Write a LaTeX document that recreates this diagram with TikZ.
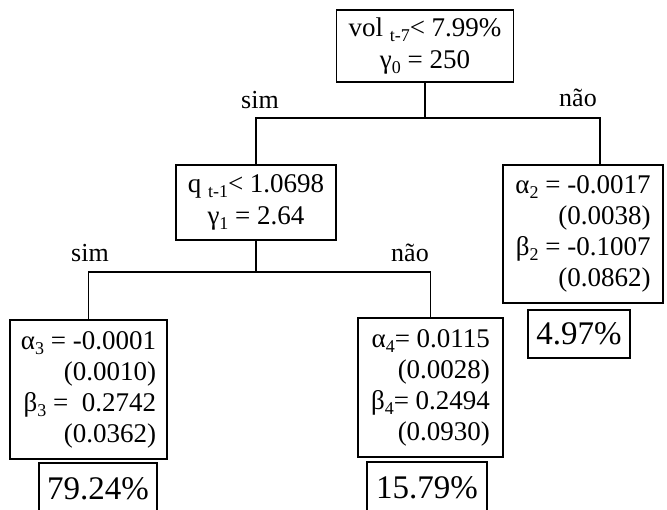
\documentclass[tikz,border=0pt]{standalone}
\usepackage{fontspec}
\setmainfont{Liberation Serif}
\usetikzlibrary{positioning, calc}

\newcommand{\sbs}[1]{\raisebox{-0.4ex}{\fontsize{18}{18}\selectfont #1}}

\tikzset{
  box/.style = {draw, line width = 1.2pt, inner sep = 0pt, align = center,
                font = \fontsize{27}{32}\selectfont},
  coef/.style = {box, align = right, font = \fontsize{27}{31}\selectfont},
  pct/.style = {box, font = \fontsize{33}{36}\selectfont},
  branch/.style = {line width = 1.2pt},
  answer/.style = {font = \fontsize{26}{28}\selectfont, inner sep = 0pt}
}

\begin{document}
\begin{tikzpicture}[x = 1pt, y = -1pt]
  \path [use as bounding box, fill = white] (0, 0) rectangle (667, 509);

  % split nodes
  \node [box, minimum width = 177, minimum height = 72] (root) at (425, 46)
        {vol \sbs{t-7}< 7.99\%\\ γ\sbs{0} = 250};
  \node [box, minimum width = 160, minimum height = 75] (qsplit) at (256, 202.5)
        {q \sbs{t-1}< 1.0698\\ γ\sbs{1} = 2.64};

  % leaves
  \node [coef, minimum width = 160, minimum height = 138] (leafA2) at (583, 234)
        {α\sbs{2} = -0.0017\\ (0.0038)\\ β\sbs{2} = -0.1007\\ (0.0862)};
  \node [coef, minimum width = 157, minimum height = 139] (leafA3) at (88.5, 389.5)
        {α\sbs{3} = -0.0001\\ (0.0010)\\ β\sbs{3} = ~0.2742\\ (0.0362)};
  \node [coef, minimum width = 145, minimum height = 139] (leafA4) at (430.5, 387.5)
        {α\sbs{4}= 0.0115\\ (0.0028)\\ β\sbs{4}= 0.2494\\ (0.0930)};

  % shares
  \node [pct, minimum width = 102, minimum height = 48] (pctA2) at (579, 334) {4.97\%};
  \node [pct, minimum width = 118, minimum height = 52] (pctA3) at (98, 489) {79.24\%};
  \node [pct, minimum width = 120, minimum height = 52] (pctA4) at (427, 488) {15.79\%};

  % branches
  \coordinate (j0) at (425, 118);
  \coordinate (j1) at (256, 272);
  \draw [branch] (root.south) -- (j0);
  \draw [branch] (qsplit.north) |- (j0) -| ([xshift = 17]leafA2.north);
  \draw [branch] (qsplit.south) -- (j1);
  \draw [branch] (leafA3.north) |- (j1) -| (leafA4.north);

  % answers
  \node [answer] (sim0) at (260, 100) {sim};
  \node [answer] (nao0) at (578, 98) {não};
  \node [answer] (sim1) at (90, 253) {sim};
  \node [answer] (nao1) at (410, 253) {não};
\end{tikzpicture}
\end{document}
